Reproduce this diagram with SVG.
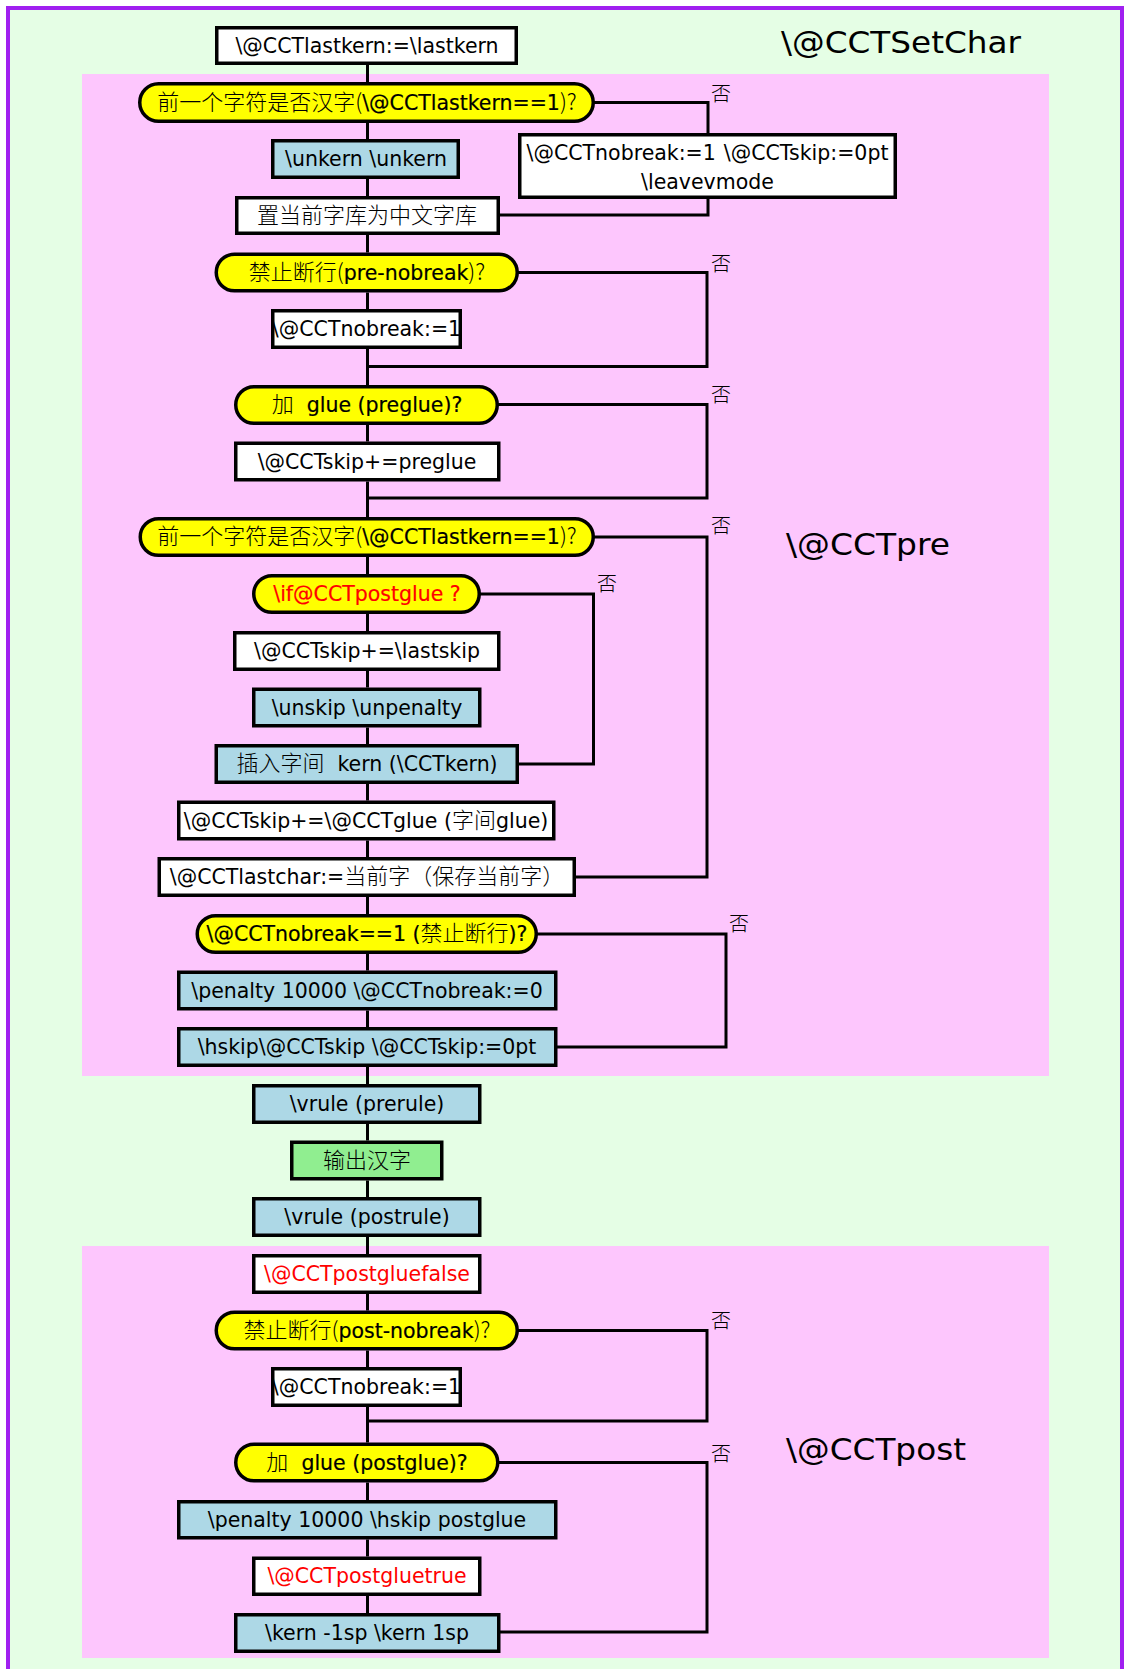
<svg xmlns="http://www.w3.org/2000/svg" width="1124" height="1669" viewBox="0 0 1124 1669">
<style>
.box{stroke:#000;stroke-width:3.5}
.w{fill:#fff}.b{fill:#add8e6}.g{fill:#90ee90}.y{fill:#ffff00}
.t{font-family:"DejaVu Sans","Noto Sans CJK SC",sans-serif;font-size:20.5px;text-anchor:middle;fill:#000}
.d{stroke:#000;stroke-width:0.2}
.c{font-family:"Noto Sans CJK SC",sans-serif;font-size:22px;font-weight:300;stroke:none}
.r{fill:#ff0000}
.d.r{stroke:#ff0000}
.e{fill:none;stroke:#000;stroke-width:3}
.no{font-family:"Noto Sans CJK SC",sans-serif;font-size:20px;font-weight:300;fill:#000}
.ttl{font-family:"DejaVu Sans",sans-serif;font-size:31px;fill:#000}
</style>
<rect x="0" y="0" width="1124" height="1669" fill="#fff"/>
<rect x="8" y="8" width="1114" height="1700" fill="#e5fee5" stroke="#a020f0" stroke-width="4"/>
<rect x="82" y="74" width="967" height="1002" fill="#fdc6fd"/>
<rect x="82" y="1246" width="967" height="412" fill="#fdc6fd"/>
<text class="ttl" x="781" y="53" textLength="240" lengthAdjust="spacingAndGlyphs">\@CCTSetChar</text>
<text class="ttl" x="786" y="555" textLength="164" lengthAdjust="spacingAndGlyphs">\@CCTpre</text>
<text class="ttl" x="786" y="1460" textLength="180" lengthAdjust="spacingAndGlyphs">\@CCTpost</text>
<g id="connectors">
<path class="e" d="M367.5 65V82M367.5 123V139M367.5 179V196M367.5 235V252.5M367.5 292.5V309M367.5 349V385M367.5 425V441.5M367.5 481.5V517M367.5 557V574M367.5 614V631M367.5 671V687.5M367.5 727.5V744M367.5 784V800.5M367.5 840.5V857M367.5 897V914M367.5 954V970.5M367.5 1010.5V1027M367.5 1067V1084M367.5 1124V1140.5M367.5 1180.5V1197M367.5 1237V1254M367.5 1294V1310.5M367.5 1350.5V1367M367.5 1407V1442.5M367.5 1482.5V1500M367.5 1539.5V1556.5M367.5 1596V1613"/>
<path class="e" d="M594 102.5H708V133"/>
<path class="e" d="M708 199V215H500"/>
<path class="e" d="M518 272.5H707V366.5H367.5"/>
<path class="e" d="M498 404.5H707V498H367.5"/>
<path class="e" d="M594 537H707V877H575"/>
<path class="e" d="M480 594H593.5V764H518"/>
<path class="e" d="M537 934H726V1047H556"/>
<path class="e" d="M518 1330.5H707V1421H367.5"/>
<path class="e" d="M498 1462.5H707V1632H499.5"/>
<text class="no" x="711" y="101">否</text>
<text class="no" x="711" y="271">否</text>
<text class="no" x="711" y="402">否</text>
<text class="no" x="711" y="533">否</text>
<text class="no" x="597" y="591">否</text>
<text class="no" x="729" y="931">否</text>
<text class="no" x="711" y="1328">否</text>
<text class="no" x="711" y="1461">否</text>
</g>
<g id="n1"><rect class="box w" x="216.75" y="27.75" width="299.5" height="35.5"/><text class="t" x="367" y="53">\@CCTlastkern:=\lastkern</text></g>
<g id="n2"><rect class="box y" x="139.75" y="83.75" width="453.5" height="37.5" rx="18.75"/><text class="t d" x="367" y="110"><tspan class="c">前一个字符是否汉字(</tspan>\@CCTlastkern==1<tspan class="c">)?</tspan></text></g>
<g id="n3"><rect class="box b" x="272.75" y="140.75" width="185.5" height="36.5"/><text class="t" x="366" y="166">\unkern \unkern</text></g>
<g id="n4"><rect class="box w" x="236.75" y="197.75" width="261.5" height="35.5"/><text class="t c" x="367" y="223">置当前字库为中文字库</text></g>
<g id="n5"><rect class="box w" x="519.75" y="134.75" width="375.5" height="62.5"/><text class="t" x="707.5" y="160" word-spacing="1.5">\@CCTnobreak:=1 \@CCTskip:=0pt</text><text class="t" x="707.5" y="189">\leavevmode</text></g>
<g id="n6"><rect class="box y" x="216.25" y="254.25" width="301" height="36.5" rx="18.25"/><text class="t d" x="367" y="280"><tspan class="c">禁止断行(</tspan>pre-nobreak<tspan class="c">)?</tspan></text></g>
<g id="n7"><rect class="box w" x="272.75" y="310.75" width="187.5" height="36.5"/><text class="t" x="366.5" y="336">\@CCTnobreak:=1</text></g>
<g id="n8"><rect class="box y" x="235.75" y="386.75" width="261.5" height="36.5" rx="18.25"/><text class="t d" x="367" y="412" xml:space="preserve"><tspan class="c">加</tspan>  glue (preglue)?</text></g>
<g id="n9"><rect class="box w" x="235.75" y="443.25" width="263" height="36.5"/><text class="t" x="367" y="468.5">\@CCTskip+=preglue</text></g>
<g id="n10"><rect class="box y" x="140.25" y="518.75" width="453" height="36.5" rx="18.25"/><text class="t d" x="367" y="544"><tspan class="c">前一个字符是否汉字(</tspan>\@CCTlastkern==1<tspan class="c">)?</tspan></text></g>
<g id="n11"><rect class="box y" x="253.75" y="575.75" width="225.5" height="36.5" rx="18.25"/><text class="t d r" x="367" y="601">\if@CCTpostglue ?</text></g>
<g id="n12"><rect class="box w" x="234.75" y="632.75" width="264" height="36.5"/><text class="t" x="367" y="658">\@CCTskip+=\lastskip</text></g>
<g id="n13"><rect class="box b" x="253.75" y="689.25" width="226" height="36.5"/><text class="t" x="367" y="714.5">\unskip \unpenalty</text></g>
<g id="n14"><rect class="box b" x="216.25" y="745.75" width="301" height="36.5"/><text class="t" x="367" y="771" xml:space="preserve"><tspan class="c">插入字间</tspan>  kern (\CCTkern)</text></g>
<g id="n15"><rect class="box w" x="178.75" y="802.25" width="375" height="36.5"/><text class="t" x="366" y="827.5">\@CCTskip+=\@CCTglue (<tspan class="c">字间</tspan>glue)</text></g>
<g id="n16"><rect class="box w" x="159.25" y="858.75" width="415" height="36.5"/><text class="t" x="367" y="884">\@CCTlastchar:=<tspan class="c">当前字（保存当前字）</tspan></text></g>
<g id="n17"><rect class="box y" x="197.25" y="915.75" width="339" height="36.5" rx="18.25"/><text class="t d" x="367" y="941">\@CCTnobreak==1 (<tspan class="c">禁止断行</tspan>)?</text></g>
<g id="n18"><rect class="box b" x="178.75" y="972.25" width="377" height="36.5"/><text class="t" x="367" y="997.5">\penalty 10000 \@CCTnobreak:=0</text></g>
<g id="n19"><rect class="box b" x="178.75" y="1028.75" width="377" height="36.5"/><text class="t" x="367" y="1054">\hskip\@CCTskip \@CCTskip:=0pt</text></g>
<g id="n20"><rect class="box b" x="253.75" y="1085.75" width="226" height="36.5"/><text class="t" x="367" y="1111">\vrule (prerule)</text></g>
<g id="n21"><rect class="box g" x="291.75" y="1142.25" width="150" height="36.5"/><text class="t c" x="367" y="1168">输出汉字</text></g>
<g id="n22"><rect class="box b" x="253.75" y="1198.75" width="226" height="36.5"/><text class="t" x="367" y="1224">\vrule (postrule)</text></g>
<g id="n23"><rect class="box w" x="253.75" y="1255.75" width="226" height="36.5"/><text class="t r" x="367" y="1281">\@CCTpostgluefalse</text></g>
<g id="n24"><rect class="box y" x="216.25" y="1312.25" width="301" height="36.5" rx="18.25"/><text class="t d" x="367" y="1337.5"><tspan class="c">禁止断行(</tspan>post-nobreak<tspan class="c">)?</tspan></text></g>
<g id="n25"><rect class="box w" x="272.75" y="1368.75" width="187.5" height="36.5"/><text class="t" x="366.5" y="1394">\@CCTnobreak:=1</text></g>
<g id="n26"><rect class="box y" x="235.75" y="1444.25" width="262" height="36.5" rx="18.25"/><text class="t d" x="367" y="1469.5" xml:space="preserve"><tspan class="c">加</tspan>  glue (postglue)?</text></g>
<g id="n27"><rect class="box b" x="178.75" y="1501.75" width="377" height="36"/><text class="t" x="367" y="1527">\penalty 10000 \hskip postglue</text></g>
<g id="n28"><rect class="box w" x="253.75" y="1558.25" width="226" height="36"/><text class="t r" x="367" y="1583">\@CCTpostgluetrue</text></g>
<g id="n29"><rect class="box b" x="235.75" y="1614.75" width="263" height="36.5"/><text class="t" x="367" y="1640">\kern -1sp \kern 1sp</text></g>
</svg>
